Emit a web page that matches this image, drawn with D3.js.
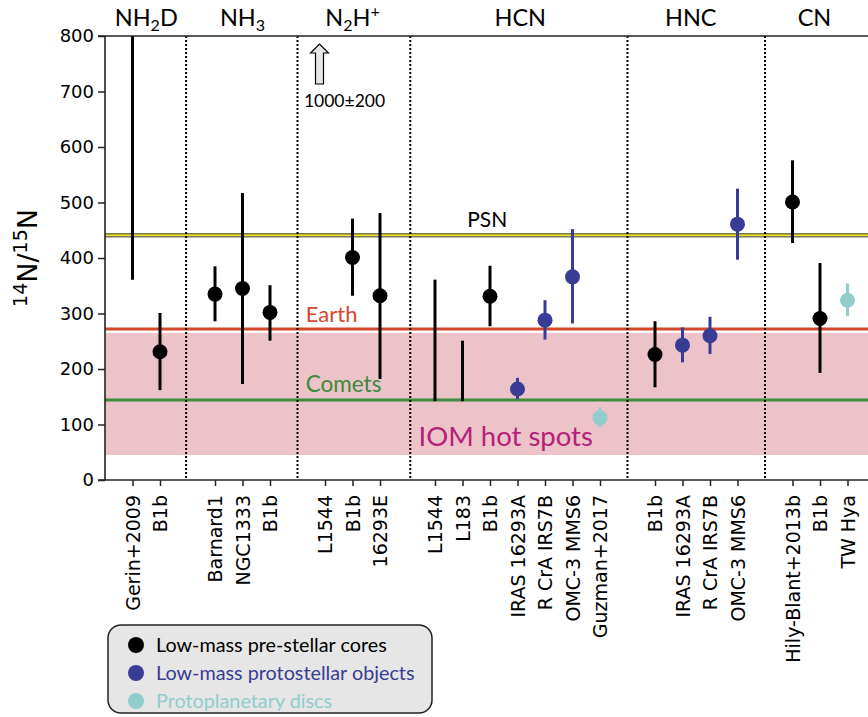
<!DOCTYPE html>
<html>
<head>
<meta charset="utf-8">
<script src="https://cdn.jsdelivr.net/npm/d3@7"></script>
<style>
  body { margin: 0; background: #fff; }
  svg { display: block; }
</style>
</head>
<body>
<svg width="868" height="717"></svg>
<script>
// x slot of each source along the axis
var slots = [1, 2, 4, 5, 6, 8, 9, 10, 12, 13, 14, 15, 16, 17, 18, 20, 21, 22, 23, 25, 26, 27];
var sources = ['Gerin+2009', 'B1b', 'Barnard1', 'NGC1333', 'B1b', 'L1544', 'B1b', '16293E',
    'L1544', 'L183', 'B1b', 'IRAS 16293A', 'R CrA IRS7B', 'OMC-3 MMS6', 'Guzman+2017',
    'B1b', 'IRAS 16293A', 'R CrA IRS7B', 'OMC-3 MMS6', 'Hily-Blant+2013b', 'B1b', 'TW Hya'];
// type: 0 pre-stellar, 1 protostellar, 2 disc
var types = [0, 0, 0, 0, 0, 0, 0, 0, 0, 0, 0, 1, 1, 1, 2, 0, 1, 1, 1, 0, 0, 2];
// central value (null = range only), low and high ends of the error bar
var ratio = [null, 231, 335, 345, 302, 1000, 401, 332, null, null, 331, 164, 288, 366, 112, 226, 243, 260, 461, 501, 291, 324];
var low   = [361, 162, 286, 173, 251, 800, 332, 182, 142, 142, 277, 146, 253, 282, 95, 167, 212, 227, 397, 427, 193, 295];
var high  = [1000, 301, 385, 517, 351, 1200, 471, 481, 361, 251, 386, 184, 324, 452, 131, 286, 275, 294, 525, 576, 391, 354];

var molecules = ['NH2D', 'NH3', 'N2H+', 'HCN', 'HNC', 'CN'];
var moleculeCenters = [1.5, 5, 9, 15.1, 21.3, 25.8];
var separators = [2.95, 7, 11.1, 19, 24];

var yTicks = [0, 100, 200, 300, 400, 500, 600, 700, 800];
var psn = 441, earth = 272, comets = 144;
var iomBand = [45, 265];

var legendLabels = ['Low-mass pre-stellar cores', 'Low-mass protostellar objects', 'Protoplanetary discs'];
var colors = ['#000000', '#383c94', '#92cccc'];

var svg = d3.select('svg');
var m = {l: 105, t: 36, b: 480, r: 875};

var x = d3.scaleLinear().domain([0, 28]).range([m.l, m.r]);
var y = d3.scaleLinear().domain([0, 800]).range([m.b, m.t]);

var gill = 'Lato, "Open Sans", sans-serif';
var dv = '"DejaVu Sans", sans-serif';

var plot = svg.append('g');
plot.append('clipPath').attr('id', 'clip')
    .append('rect').attr('x', m.l).attr('y', m.t).attr('width', m.r - m.l).attr('height', m.b - m.t);
var clipped = plot.append('g').attr('clip-path', 'url(#clip)');

// IOM hot spots band
clipped.append('rect')
    .attr('x', m.l).attr('width', m.r - m.l)
    .attr('y', y(iomBand[1])).attr('height', y(iomBand[0]) - y(iomBand[1]))
    .attr('fill', '#ebc3c9');

// reference lines
clipped.append('line').attr('x1', m.l).attr('x2', m.r)
    .attr('y1', y(psn)).attr('y2', y(psn))
    .attr('stroke', '#77775a').attr('stroke-width', 4.5);
clipped.append('line').attr('x1', m.l).attr('x2', m.r)
    .attr('y1', y(psn)).attr('y2', y(psn))
    .attr('stroke', '#f2e21a').attr('stroke-width', 1.6);
clipped.append('line').attr('x1', m.l).attr('x2', m.r)
    .attr('y1', y(earth)).attr('y2', y(earth))
    .attr('stroke', '#d4472b').attr('stroke-width', 3);
clipped.append('line').attr('x1', m.l).attr('x2', m.r)
    .attr('y1', y(comets)).attr('y2', y(comets))
    .attr('stroke', '#3d8a3a').attr('stroke-width', 3);

// separators
clipped.selectAll('.sep').data(separators).enter().append('line')
    .attr('x1', d => x(d)).attr('x2', d => x(d))
    .attr('y1', m.t).attr('y2', m.b)
    .attr('stroke', '#000').attr('stroke-width', 2).attr('stroke-dasharray', '2,2');

// line labels
plot.append('text').attr('x', x(13.9)).attr('y', y(455)).attr('text-anchor', 'middle')
    .attr('font-family', gill).attr('font-size', 21).attr('fill', '#000').text('PSN');
plot.append('text').attr('x', x(7.3)).attr('y', y(285)).attr('text-anchor', 'start')
    .attr('font-family', gill).attr('font-size', 22).attr('fill', '#d4472b').text('Earth');
plot.append('text').attr('x', x(7.3)).attr('y', y(158)).attr('text-anchor', 'start')
    .attr('font-family', gill).attr('font-size', 22.5).attr('fill', '#3d8a3a').text('Comets');
plot.append('text').attr('x', x(11.4)).attr('y', y(62)).attr('text-anchor', 'start')
    .attr('font-family', gill).attr('font-size', 27.5).attr('fill', '#b5207a').text('IOM hot spots');

// data points
var pts = slots.map(function(s, i) {
    return {slot: s, v: ratio[i], lo: low[i], hi: high[i], t: types[i]};
}).filter(d => d.lo <= 800);

clipped.selectAll('.err').data(pts).enter().append('line')
    .attr('x1', d => x(d.slot)).attr('x2', d => x(d.slot))
    .attr('y1', d => y(d.lo)).attr('y2', d => y(d.hi))
    .attr('stroke', d => colors[d.t]).attr('stroke-width', 3);
clipped.selectAll('.dot').data(pts.filter(d => d.v !== null)).enter().append('circle')
    .attr('cx', d => x(d.slot)).attr('cy', d => y(d.v)).attr('r', 7.5)
    .attr('fill', d => colors[d.t]);

// off-scale L1544 N2H+ arrow
var ai = ratio.indexOf(1000);
var ax = x(slots[ai]) - 5.5;
var arrow = d3.path();
arrow.moveTo(ax - 4, 84); arrow.lineTo(ax - 4, 53); arrow.lineTo(ax - 9, 53);
arrow.lineTo(ax, 44); arrow.lineTo(ax + 9, 53); arrow.lineTo(ax + 4, 53);
arrow.lineTo(ax + 4, 84); arrow.closePath();
plot.append('path').attr('d', arrow.toString())
    .attr('fill', '#e6e6e6').attr('stroke', '#000').attr('stroke-width', 1.2);
plot.append('text').attr('x', ax + 25).attr('y', 107).attr('text-anchor', 'middle')
    .attr('font-family', gill).attr('font-size', 17.5).attr('fill', '#000')
    .text(ratio[ai] + '\u00b1' + (high[ai] - ratio[ai]));

// axes
var yAxis = d3.axisLeft(y).tickValues(yTicks).tickSize(7).tickPadding(4);
var gy = svg.append('g').attr('transform', 'translate(' + m.l + ',0)').call(yAxis);
gy.select('.domain').remove();
gy.selectAll('line').attr('stroke', '#222').attr('stroke-width', 1.5);
gy.selectAll('text').attr('font-family', dv).attr('font-size', 18).attr('fill', '#000');

var xAxis = d3.axisBottom(x).tickValues(slots).tickSize(6).tickFormat((d, i) => sources[i]);
var gx = svg.append('g').attr('transform', 'translate(0,' + m.b + ')').call(xAxis);
gx.select('.domain').remove();
gx.selectAll('line').attr('stroke', '#222').attr('stroke-width', 1.5);
gx.selectAll('text')
    .attr('font-family', dv).attr('font-size', 19).attr('fill', '#000')
    .attr('text-anchor', 'end')
    .attr('transform', 'rotate(-90)')
    .attr('x', -15).attr('y', 0).attr('dy', '0.36em');

// spines
svg.append('line').attr('x1', m.l).attr('x2', m.l).attr('y1', m.t).attr('y2', m.b)
    .attr('stroke', '#222').attr('stroke-width', 1.6);
svg.append('line').attr('x1', m.l - 7).attr('x2', 868).attr('y1', m.b).attr('y2', m.b)
    .attr('stroke', '#222').attr('stroke-width', 1.6);
svg.append('line').attr('x1', m.l - 7).attr('x2', 868).attr('y1', m.t).attr('y2', m.t)
    .attr('stroke', '#222').attr('stroke-width', 1.6);

// y label
var yl = svg.append('text').attr('transform', 'translate(37,' + 258 + ') rotate(-90)')
    .attr('text-anchor', 'middle').attr('font-family', dv).attr('font-size', 27).attr('fill', '#000');
yl.append('tspan').attr('font-size', 19).attr('dy', -10).text('14');
yl.append('tspan').attr('dy', 10).text('N/');
yl.append('tspan').attr('font-size', 19).attr('dy', -10).text('15');
yl.append('tspan').attr('dy', 10).text('N');

// molecule headers
molecules.forEach(function(mol, i) {
    var t = svg.append('text').attr('x', x(moleculeCenters[i])).attr('y', 26)
        .attr('text-anchor', 'middle').attr('font-family', gill).attr('font-size', 23.5).attr('fill', '#000');
    var parts = mol.match(/[A-Z]+|\d|\+/g);
    var shift = 0;
    parts.forEach(function(p) {
        if (/\d/.test(p)) { t.append('tspan').attr('font-size', 16).attr('dy', 5 - shift).text(p); shift = 5; }
        else if (p === '+') { t.append('tspan').attr('font-size', 16).attr('dy', -9 - shift).text(p); shift = -9; }
        else { t.append('tspan').attr('dy', -shift).text(p); shift = 0; }
    });
});

// legend
var lg = svg.append('g').attr('transform', 'translate(108,625)');
lg.append('rect').attr('width', 324).attr('height', 88).attr('rx', 13)
    .attr('fill', '#e6e6e6').attr('stroke', '#222').attr('stroke-width', 1.5);
legendLabels.forEach(function(l, i) {
    lg.append('circle').attr('cx', 28).attr('cy', 20 + i * 28).attr('r', 8).attr('fill', colors[i]);
    lg.append('text').attr('x', 48).attr('y', 20 + i * 28).attr('dy', '0.35em')
        .attr('font-family', gill).attr('font-size', 19.8).attr('fill', colors[i]).text(l);
});
</script>
</body>
</html>
